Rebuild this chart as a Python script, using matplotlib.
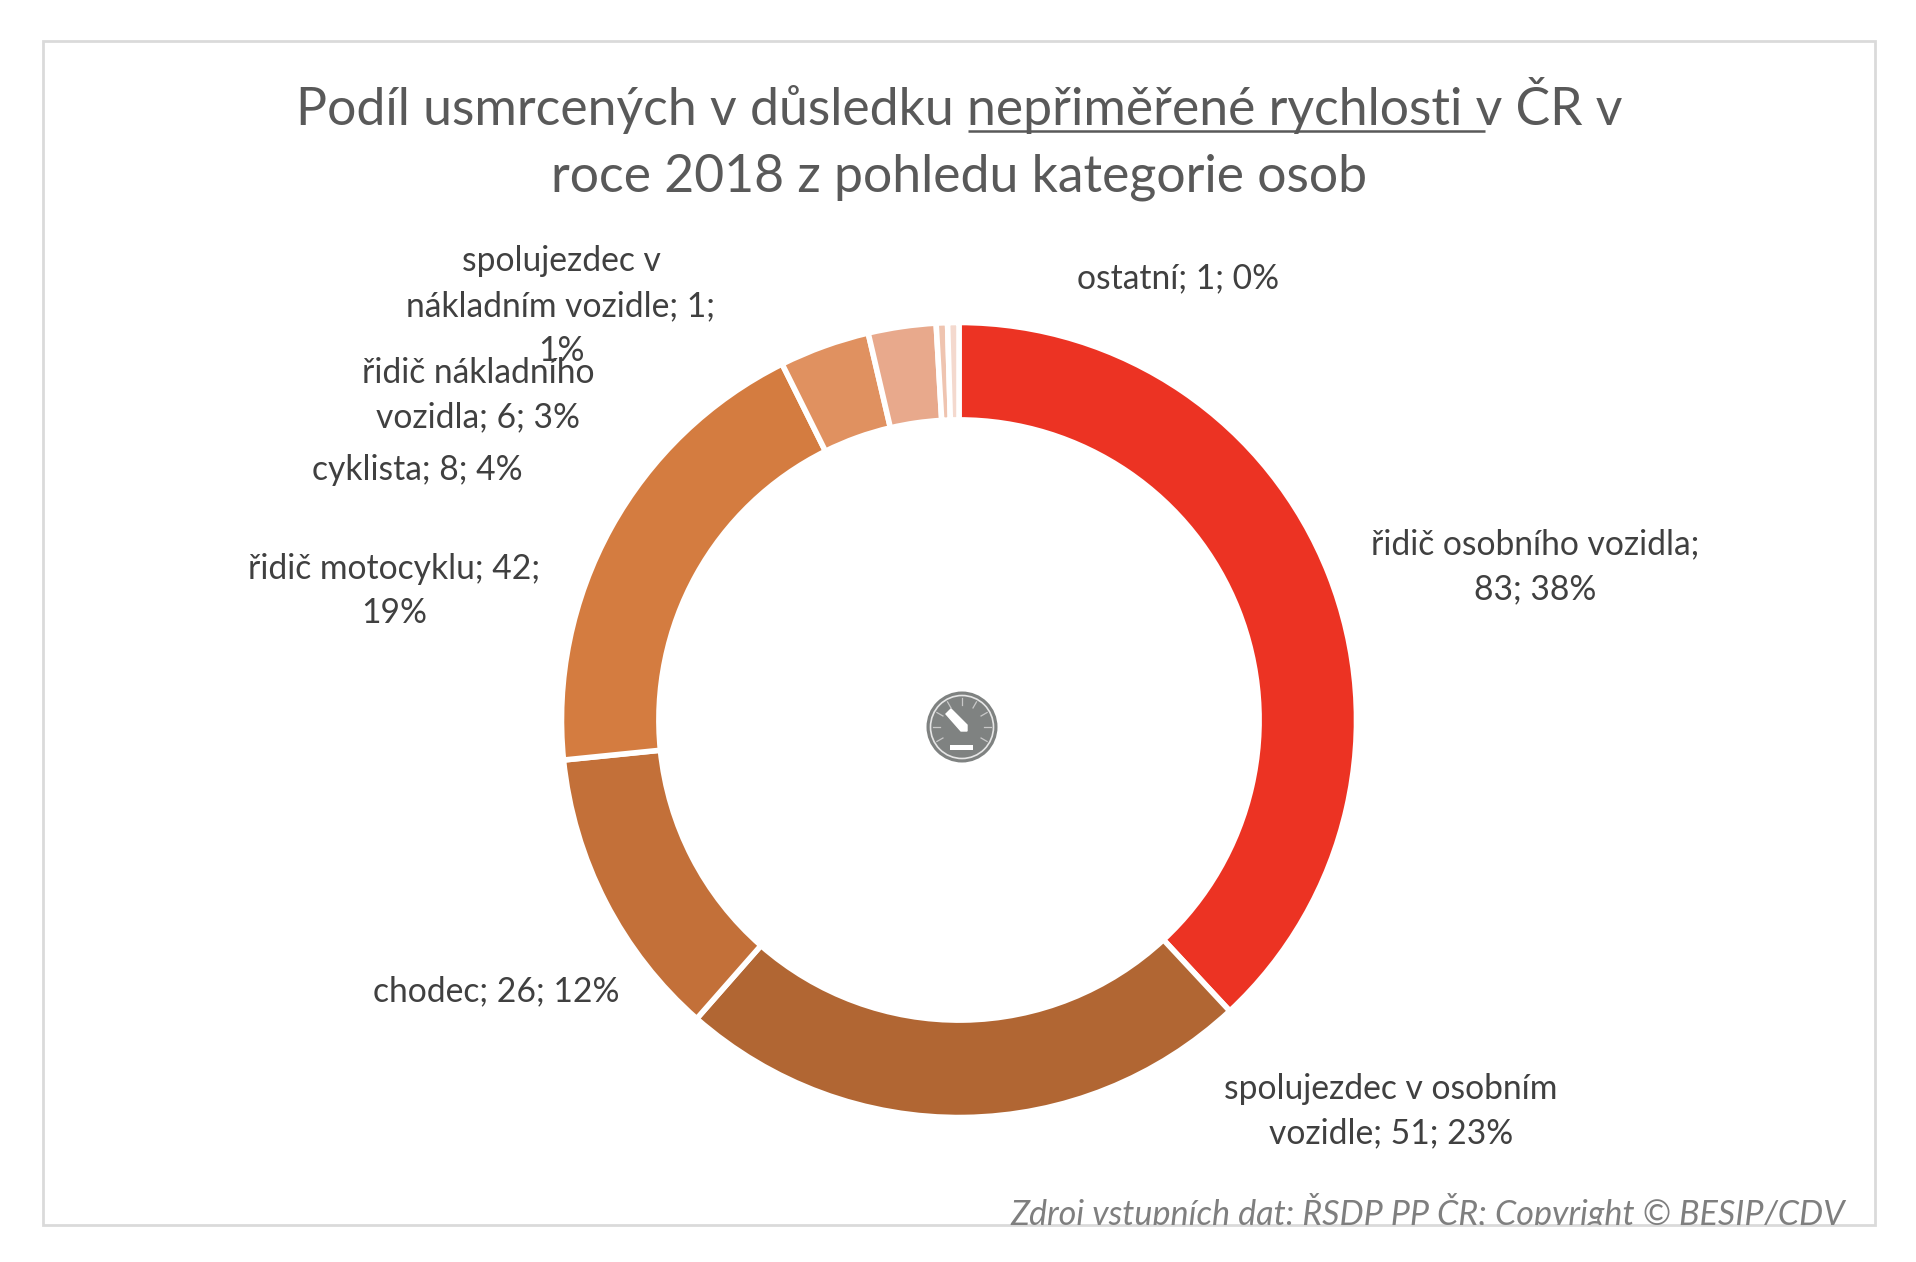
import numpy as np
import matplotlib
matplotlib.use("Agg")
import matplotlib.pyplot as plt
from matplotlib.patches import Circle, Rectangle, Polygon

W, H = 1916, 1262
categories = ["řidič osobního vozidla", "spolujezdec v osobním vozidle", "chodec", "řidič motocyklu",
              "cyklista", "řidič nákladního vozidla", "spolujezdec v nákladním vozidle", "ostatní"]
values = [83, 51, 26, 42, 8, 6, 1, 1]
colors = ["#EC3323", "#B16633", "#C37039", "#D47C40", "#E09160", "#E8A98C", "#EFC4B0", "#F4D9CE"]
label_texts = ["řidič osobního vozidla;\n83; 38%", "spolujezdec v osobním\nvozidle; 51; 23%",
               "chodec; 26; 12%", "řidič motocyklu; 42;\n19%", "cyklista; 8; 4%",
               "řidič nákladního\nvozidla; 6; 3%", "spolujezdec v\nnákladním vozidle; 1;\n1%",
               "ostatní; 1; 0%"]
label_pos = [(1535, 567), (1391, 1111), (496, 991), (394, 591), (417, 470), (478, 395), (561, 306), (1178, 278)]

font = ["Lato", "DejaVu Sans"]
fig = plt.figure(figsize=(W / 100, H / 100), dpi=100, facecolor="white")
bg = fig.add_axes([0, 0, 1, 1])
bg.set_xlim(0, W); bg.set_ylim(H, 0); bg.axis("off")

border = Rectangle((43, 41), 1832, 1184, fill=False, ec="#DADADA", lw=2)
bg.add_patch(border)

# doughnut
cx, cy, R = 959, 720, 397.5
ax = fig.add_axes([(cx - R) / W, 1 - (cy + R) / H, 2 * R / W, 2 * R / H])
ax.pie(values, colors=colors, startangle=90, counterclock=False, radius=1,
       wedgeprops=dict(width=0.245, edgecolor="white", linewidth=4))
ax.set_xlim(-1, 1); ax.set_ylim(-1, 1); ax.axis("off")

# labels
for t, (x, y) in zip(label_texts, label_pos):
    bg.text(x, y, t, ha="center", va="center", fontsize=24.2, color="#404040", family=font, linespacing=1.49)

# title
tc = "#595959"
fs = 37.3
t1 = "Podíl usmrcených v důsledku "
t2 = "nepřiměřené rychlosti "
t3 = "v ČR v"
bg.text(959, 105, t1 + t2 + t3, ha="center", va="center", fontsize=fs, color=tc, family=font)
bg.text(959, 177, "roce 2018 z pohledu kategorie osob", ha="center", va="center", fontsize=fs, color=tc, family=font)
bg.plot([968, 1485], [131, 131], color=tc, lw=1.8, solid_capstyle="butt")

# source, cut by the frame as in the original
s = bg.text(1845, 1212, "Zdroj vstupních dat: ŘSDP PP ČR; Copyright © BESIP/CDV", ha="right", va="center",
            fontsize=24.6, color="#7F7F7F", family=font, style="italic")
s.set_clip_path(Rectangle((0, 0), W, 1225, transform=bg.transData))
s.set_clip_on(True)

# centre gauge icon
ic = (962, 727)
g = "#7F8281"
bg.add_patch(Circle(ic, 35.5, fc=g, ec="none", zorder=5))
bg.add_patch(Circle(ic, 31.5, fc="none", ec="#E6E6E6", lw=1.2, zorder=6))
for a in np.arange(-30, 211, 30):
    r = np.radians(a)
    bg.plot([ic[0] + 22 * np.cos(r), ic[0] + 29 * np.cos(r)], [ic[1] - 22 * np.sin(r), ic[1] - 29 * np.sin(r)],
            color="#C8C8C8", lw=0.9, zorder=6)
bg.add_patch(Polygon([(946, 714), (951, 709), (967, 725), (967, 731), (961, 731)], fc="white", ec="white", lw=1, zorder=7))
bg.add_patch(Rectangle((950, 745), 23, 4.5, fc="white", ec="none", zorder=7))

fig.savefig("out.png", dpi=100, facecolor="white")
